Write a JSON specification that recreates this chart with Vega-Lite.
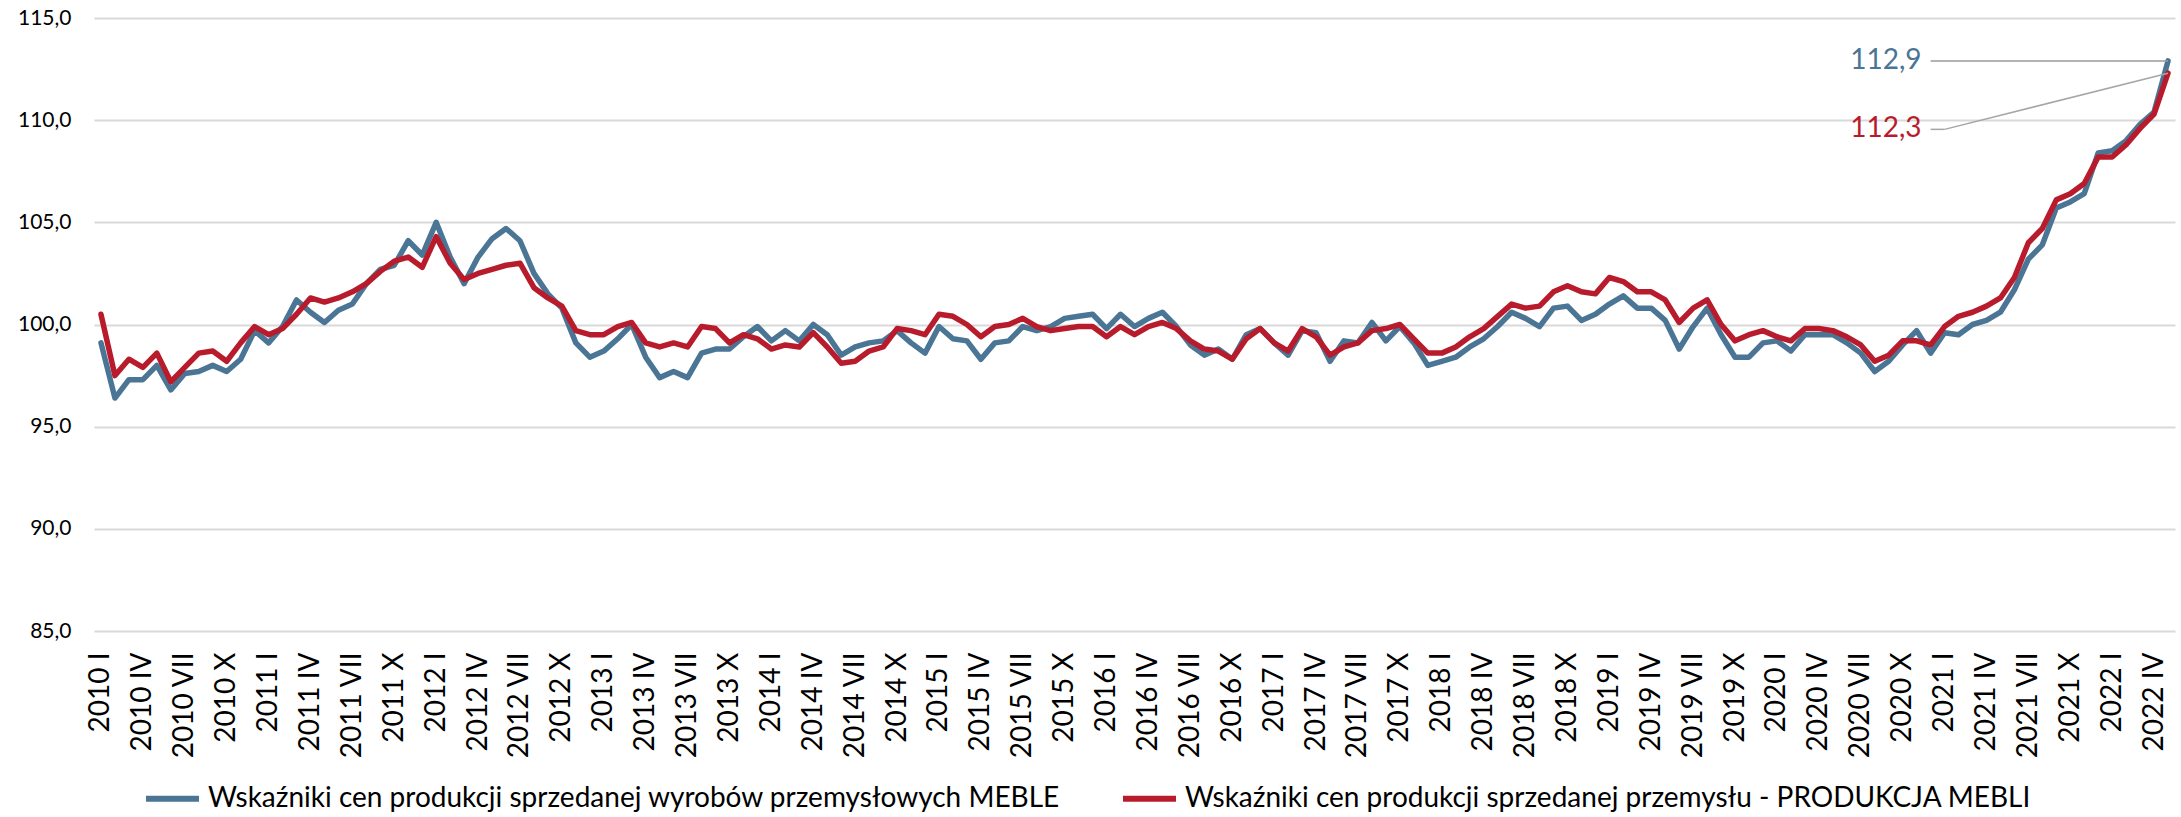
{
  "$schema": "https://vega.github.io/schema/vega-lite/v6.json",
  "width": 2081,
  "height": 613,
  "autosize": {"type": "none"},
  "padding": {"left": 94, "top": 18, "right": 6, "bottom": 186},
  "background": "white",
  "config": {
    "locale": {"number": {"decimal": ",", "thousands": " ", "grouping": [3], "currency": ["", " zł"]}},
    "view": {"stroke": null},
    "font": "Lato"
  },
  "data": {"values": [
    {"m":"2010 I","a":99.1,"b":100.5},{"m":"2010 II","a":96.4,"b":97.5},{"m":"2010 III","a":97.3,"b":98.3},{"m":"2010 IV","a":97.3,"b":97.9},{"m":"2010 V","a":98.0,"b":98.6},{"m":"2010 VI","a":96.8,"b":97.2},{"m":"2010 VII","a":97.6,"b":97.9},{"m":"2010 VIII","a":97.7,"b":98.6},{"m":"2010 IX","a":98.0,"b":98.7},{"m":"2010 X","a":97.7,"b":98.2},{"m":"2010 XI","a":98.3,"b":99.1},{"m":"2010 XII","a":99.7,"b":99.9},
    {"m":"2011 I","a":99.1,"b":99.5},{"m":"2011 II","a":99.9,"b":99.8},{"m":"2011 III","a":101.2,"b":100.5},{"m":"2011 IV","a":100.6,"b":101.3},{"m":"2011 V","a":100.1,"b":101.1},{"m":"2011 VI","a":100.7,"b":101.3},{"m":"2011 VII","a":101.0,"b":101.6},{"m":"2011 VIII","a":102.0,"b":102.0},{"m":"2011 IX","a":102.7,"b":102.6},{"m":"2011 X","a":102.9,"b":103.1},{"m":"2011 XI","a":104.1,"b":103.3},{"m":"2011 XII","a":103.4,"b":102.8},
    {"m":"2012 I","a":105.0,"b":104.3},{"m":"2012 II","a":103.3,"b":103.0},{"m":"2012 III","a":102.0,"b":102.2},{"m":"2012 IV","a":103.3,"b":102.5},{"m":"2012 V","a":104.2,"b":102.7},{"m":"2012 VI","a":104.7,"b":102.9},{"m":"2012 VII","a":104.1,"b":103.0},{"m":"2012 VIII","a":102.5,"b":101.8},{"m":"2012 IX","a":101.5,"b":101.3},{"m":"2012 X","a":100.8,"b":100.9},{"m":"2012 XI","a":99.1,"b":99.7},{"m":"2012 XII","a":98.4,"b":99.5},
    {"m":"2013 I","a":98.7,"b":99.5},{"m":"2013 II","a":99.3,"b":99.9},{"m":"2013 III","a":100.0,"b":100.1},{"m":"2013 IV","a":98.4,"b":99.1},{"m":"2013 V","a":97.4,"b":98.9},{"m":"2013 VI","a":97.7,"b":99.1},{"m":"2013 VII","a":97.4,"b":98.9},{"m":"2013 VIII","a":98.6,"b":99.9},{"m":"2013 IX","a":98.8,"b":99.8},{"m":"2013 X","a":98.8,"b":99.1},{"m":"2013 XI","a":99.4,"b":99.5},{"m":"2013 XII","a":99.9,"b":99.3},
    {"m":"2014 I","a":99.2,"b":98.8},{"m":"2014 II","a":99.7,"b":99.0},{"m":"2014 III","a":99.2,"b":98.9},{"m":"2014 IV","a":100.0,"b":99.6},{"m":"2014 V","a":99.5,"b":98.9},{"m":"2014 VI","a":98.5,"b":98.1},{"m":"2014 VII","a":98.9,"b":98.2},{"m":"2014 VIII","a":99.1,"b":98.7},{"m":"2014 IX","a":99.2,"b":98.9},{"m":"2014 X","a":99.7,"b":99.8},{"m":"2014 XI","a":99.1,"b":99.7},{"m":"2014 XII","a":98.6,"b":99.5},
    {"m":"2015 I","a":99.9,"b":100.5},{"m":"2015 II","a":99.3,"b":100.4},{"m":"2015 III","a":99.2,"b":100.0},{"m":"2015 IV","a":98.3,"b":99.4},{"m":"2015 V","a":99.1,"b":99.9},{"m":"2015 VI","a":99.2,"b":100.0},{"m":"2015 VII","a":99.9,"b":100.3},{"m":"2015 VIII","a":99.7,"b":99.9},{"m":"2015 IX","a":99.9,"b":99.7},{"m":"2015 X","a":100.3,"b":99.8},{"m":"2015 XI","a":100.4,"b":99.9},{"m":"2015 XII","a":100.5,"b":99.9},
    {"m":"2016 I","a":99.8,"b":99.4},{"m":"2016 II","a":100.5,"b":99.9},{"m":"2016 III","a":99.9,"b":99.5},{"m":"2016 IV","a":100.3,"b":99.9},{"m":"2016 V","a":100.6,"b":100.1},{"m":"2016 VI","a":99.9,"b":99.8},{"m":"2016 VII","a":99.0,"b":99.2},{"m":"2016 VIII","a":98.5,"b":98.8},{"m":"2016 IX","a":98.8,"b":98.7},{"m":"2016 X","a":98.3,"b":98.3},{"m":"2016 XI","a":99.5,"b":99.3},{"m":"2016 XII","a":99.8,"b":99.8},
    {"m":"2017 I","a":99.1,"b":99.1},{"m":"2017 II","a":98.5,"b":98.7},{"m":"2017 III","a":99.7,"b":99.8},{"m":"2017 IV","a":99.6,"b":99.4},{"m":"2017 V","a":98.2,"b":98.5},{"m":"2017 VI","a":99.2,"b":98.9},{"m":"2017 VII","a":99.1,"b":99.1},{"m":"2017 VIII","a":100.1,"b":99.7},{"m":"2017 IX","a":99.2,"b":99.8},{"m":"2017 X","a":99.9,"b":100.0},{"m":"2017 XI","a":99.1,"b":99.3},{"m":"2017 XII","a":98.0,"b":98.6},
    {"m":"2018 I","a":98.2,"b":98.6},{"m":"2018 II","a":98.4,"b":98.9},{"m":"2018 III","a":98.9,"b":99.4},{"m":"2018 IV","a":99.3,"b":99.8},{"m":"2018 V","a":99.9,"b":100.4},{"m":"2018 VI","a":100.6,"b":101.0},{"m":"2018 VII","a":100.3,"b":100.8},{"m":"2018 VIII","a":99.9,"b":100.9},{"m":"2018 IX","a":100.8,"b":101.6},{"m":"2018 X","a":100.9,"b":101.9},{"m":"2018 XI","a":100.2,"b":101.6},{"m":"2018 XII","a":100.5,"b":101.5},
    {"m":"2019 I","a":101.0,"b":102.3},{"m":"2019 II","a":101.4,"b":102.1},{"m":"2019 III","a":100.8,"b":101.6},{"m":"2019 IV","a":100.8,"b":101.6},{"m":"2019 V","a":100.2,"b":101.2},{"m":"2019 VI","a":98.8,"b":100.1},{"m":"2019 VII","a":99.9,"b":100.8},{"m":"2019 VIII","a":100.8,"b":101.2},{"m":"2019 IX","a":99.5,"b":100.0},{"m":"2019 X","a":98.4,"b":99.2},{"m":"2019 XI","a":98.4,"b":99.5},{"m":"2019 XII","a":99.1,"b":99.7},
    {"m":"2020 I","a":99.2,"b":99.4},{"m":"2020 II","a":98.7,"b":99.2},{"m":"2020 III","a":99.5,"b":99.8},{"m":"2020 IV","a":99.5,"b":99.8},{"m":"2020 V","a":99.5,"b":99.7},{"m":"2020 VI","a":99.1,"b":99.4},{"m":"2020 VII","a":98.6,"b":99.0},{"m":"2020 VIII","a":97.7,"b":98.2},{"m":"2020 IX","a":98.2,"b":98.5},{"m":"2020 X","a":99.0,"b":99.2},{"m":"2020 XI","a":99.7,"b":99.2},{"m":"2020 XII","a":98.6,"b":99.0},
    {"m":"2021 I","a":99.6,"b":99.9},{"m":"2021 II","a":99.5,"b":100.4},{"m":"2021 III","a":100.0,"b":100.6},{"m":"2021 IV","a":100.2,"b":100.9},{"m":"2021 V","a":100.6,"b":101.3},{"m":"2021 VI","a":101.7,"b":102.3},{"m":"2021 VII","a":103.2,"b":104.0},{"m":"2021 VIII","a":103.9,"b":104.7},{"m":"2021 IX","a":105.7,"b":106.1},{"m":"2021 X","a":106.0,"b":106.4},{"m":"2021 XI","a":106.4,"b":106.9},{"m":"2021 XII","a":108.4,"b":108.2},
    {"m":"2022 I","a":108.5,"b":108.2},{"m":"2022 II","a":109.0,"b":108.8},{"m":"2022 III","a":109.8,"b":109.6},{"m":"2022 IV","a":110.4,"b":110.3},{"m":"2022 V","a":112.9,"b":112.3}
  ]},
  "transform": [{"fold": ["a", "b"], "as": ["s", "v"]}],
  "encoding": {
    "x": {
      "field": "m",
      "type": "ordinal",
      "scale": {"type": "point", "padding": 0.5, "domain": [
        "2010 I","2010 II","2010 III","2010 IV","2010 V","2010 VI","2010 VII","2010 VIII","2010 IX","2010 X","2010 XI","2010 XII",
        "2011 I","2011 II","2011 III","2011 IV","2011 V","2011 VI","2011 VII","2011 VIII","2011 IX","2011 X","2011 XI","2011 XII",
        "2012 I","2012 II","2012 III","2012 IV","2012 V","2012 VI","2012 VII","2012 VIII","2012 IX","2012 X","2012 XI","2012 XII",
        "2013 I","2013 II","2013 III","2013 IV","2013 V","2013 VI","2013 VII","2013 VIII","2013 IX","2013 X","2013 XI","2013 XII",
        "2014 I","2014 II","2014 III","2014 IV","2014 V","2014 VI","2014 VII","2014 VIII","2014 IX","2014 X","2014 XI","2014 XII",
        "2015 I","2015 II","2015 III","2015 IV","2015 V","2015 VI","2015 VII","2015 VIII","2015 IX","2015 X","2015 XI","2015 XII",
        "2016 I","2016 II","2016 III","2016 IV","2016 V","2016 VI","2016 VII","2016 VIII","2016 IX","2016 X","2016 XI","2016 XII",
        "2017 I","2017 II","2017 III","2017 IV","2017 V","2017 VI","2017 VII","2017 VIII","2017 IX","2017 X","2017 XI","2017 XII",
        "2018 I","2018 II","2018 III","2018 IV","2018 V","2018 VI","2018 VII","2018 VIII","2018 IX","2018 X","2018 XI","2018 XII",
        "2019 I","2019 II","2019 III","2019 IV","2019 V","2019 VI","2019 VII","2019 VIII","2019 IX","2019 X","2019 XI","2019 XII",
        "2020 I","2020 II","2020 III","2020 IV","2020 V","2020 VI","2020 VII","2020 VIII","2020 IX","2020 X","2020 XI","2020 XII",
        "2021 I","2021 II","2021 III","2021 IV","2021 V","2021 VI","2021 VII","2021 VIII","2021 IX","2021 X","2021 XI","2021 XII",
        "2022 I","2022 II","2022 III","2022 IV","2022 V"
      ]},
      "axis": {
        "values": ["2010 I","2010 IV","2010 VII","2010 X","2011 I","2011 IV","2011 VII","2011 X","2012 I","2012 IV","2012 VII","2012 X","2013 I","2013 IV","2013 VII","2013 X","2014 I","2014 IV","2014 VII","2014 X","2015 I","2015 IV","2015 VII","2015 X","2016 I","2016 IV","2016 VII","2016 X","2017 I","2017 IV","2017 VII","2017 X","2018 I","2018 IV","2018 VII","2018 X","2019 I","2019 IV","2019 VII","2019 X","2020 I","2020 IV","2020 VII","2020 X","2021 I","2021 IV","2021 VII","2021 X","2022 I","2022 IV"],
        "labelAngle": -90,
        "labelFontSize": 28,
        "labelFont": "Lato",
        "labelColor": "#000000",
        "labelPadding": 21,
        "labelOverlap": false,
        "ticks": false,
        "domain": false,
        "grid": false,
        "title": null
      }
    },
    "y": {
      "field": "v",
      "type": "quantitative",
      "scale": {"domain": [85, 115], "nice": false, "zero": false},
      "axis": {
        "values": [85, 90, 95, 100, 105, 110, 115],
        "format": ".1f",
        "labelFontSize": 21,
        "labelFont": "Lato",
        "labelColor": "#000000",
        "labelPadding": 23,
        "ticks": false,
        "domain": false,
        "grid": true,
        "gridColor": "#d9d9d9",
        "gridWidth": 2,
        "title": null
      }
    }
  },
  "layer": [
    {
      "mark": {"type": "line", "strokeWidth": 5.5, "strokeJoin": "round", "strokeCap": "round"},
      "encoding": {
        "color": {
          "field": "s",
          "type": "nominal",
          "sort": ["a", "b"],
          "scale": {"domain": ["a", "b"], "range": ["#4a7595", "#b81c2c"]},
          "legend": {
            "orient": "none",
            "legendX": 49,
            "legendY": 751,
            "direction": "horizontal",
            "title": null,
            "labelExpr": "datum.value == 'a' ? 'Wskaźniki cen produkcji sprzedanej wyrobów przemysłowych MEBLE' : 'Wskaźniki cen produkcji  sprzedanej przemysłu - PRODUKCJA MEBLI'",
            "labelFontSize": 28,
            "labelFont": "Lato",
            "labelColor": "#000000",
            "labelLimit": 1500,
            "symbolType": "stroke",
            "symbolSize": 2809,
            "symbolStrokeWidth": 6,
            "labelOffset": 6,
            "columnPadding": 50
          }
        }
      }
    },
    {
      "transform": [{"filter": "datum.m == '2022 V' && datum.s == 'a'"}],
      "mark": {"type": "rule", "color": "#9a9a9a", "strokeWidth": 1.5},
      "encoding": {
        "x": {"datum": "2020 XII", "type": "ordinal"},
        "x2": {"field": "m"}
      }
    },
    {
      "transform": [{"filter": "datum.m == '2022 V' && datum.s == 'b'"}],
      "mark": {"type": "rule", "color": "#a6a6a6", "strokeWidth": 1.5},
      "encoding": {
        "x": {"datum": "2020 XII", "type": "ordinal"},
        "x2": {"datum": "2021 I"},
        "y": {"datum": 109.55, "type": "quantitative"}
      }
    },
    {
      "transform": [{"filter": "datum.m == '2022 V' && datum.s == 'b'"}],
      "mark": {"type": "rule", "color": "#a6a6a6", "strokeWidth": 1.5},
      "encoding": {
        "x": {"datum": "2021 I", "type": "ordinal"},
        "y": {"datum": 109.55, "type": "quantitative"},
        "x2": {"field": "m"},
        "y2": {"field": "v"}
      }
    },
    {
      "transform": [{"filter": "datum.m == '2022 V' && datum.s == 'a'"}],
      "mark": {"type": "text", "align": "right", "baseline": "middle", "dx": -9, "fontSize": 28, "font": "Lato", "color": "#4a7595"},
      "encoding": {
        "x": {"datum": "2020 XII", "type": "ordinal"},
        "text": {"field": "v", "type": "quantitative", "format": ".1f"}
      }
    },
    {
      "transform": [{"filter": "datum.m == '2022 V' && datum.s == 'b'"}],
      "mark": {"type": "text", "align": "right", "baseline": "middle", "dx": -9, "fontSize": 28, "font": "Lato", "color": "#b81c2c"},
      "encoding": {
        "x": {"datum": "2020 XII", "type": "ordinal"},
        "y": {"datum": 109.55, "type": "quantitative"},
        "text": {"field": "v", "type": "quantitative", "format": ".1f"}
      }
    }
  ]
}
